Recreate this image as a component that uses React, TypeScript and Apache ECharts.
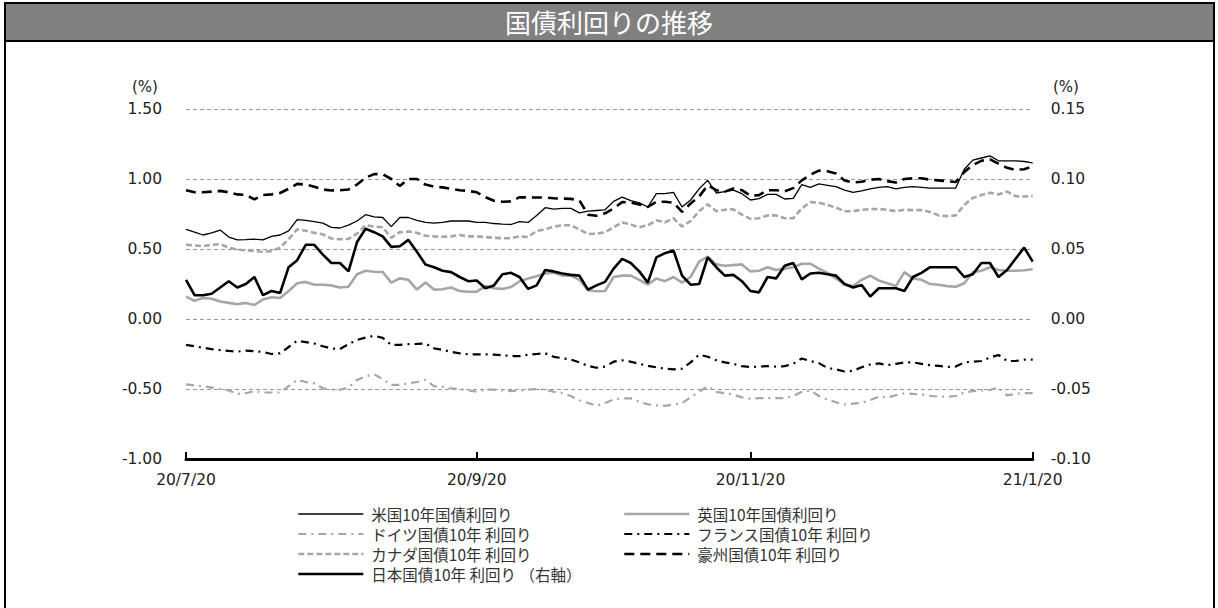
import { useEffect, useRef } from "react";
import * as echarts from "echarts";

const titleText = "国債利回りの推移";
const tickLabels = ["20/7/20", "20/9/20", "20/11/20", "21/1/20"];
const tickIndex = [0, 34, 66, 99];

const seriesNames = [
  "米国10年国債利回り",
  "英国10年国債利回り",
  "ドイツ国債10年 利回り",
  "フランス国債10年 利回り",
  "カナダ国債10年 利回り",
  "豪州国債10年 利回り",
  "日本国債10年 利回り （右軸）",
];

const us = [
  0.64, 0.62, 0.6, 0.615, 0.635, 0.585, 0.565, 0.567, 0.57, 0.565,
  0.59, 0.6, 0.63, 0.71, 0.705, 0.695, 0.685, 0.655, 0.65, 0.67,
  0.7, 0.745, 0.73, 0.725, 0.66, 0.725, 0.725, 0.705, 0.69, 0.685,
  0.69, 0.7, 0.7, 0.7, 0.69, 0.69, 0.682, 0.677, 0.675, 0.695,
  0.69, 0.74, 0.795, 0.785, 0.79, 0.79, 0.758, 0.77, 0.775, 0.78,
  0.84, 0.87, 0.845, 0.83, 0.8, 0.895, 0.895, 0.905, 0.8, 0.85,
  0.93, 0.99, 0.9, 0.91, 0.92, 0.895, 0.85, 0.86, 0.89, 0.89,
  0.857, 0.862, 0.96, 0.94, 0.965, 0.955, 0.945, 0.92, 0.905, 0.915,
  0.93, 0.94, 0.945, 0.93, 0.94, 0.945, 0.94, 0.935, 0.935, 0.935,
  0.935, 1.07, 1.135, 1.15, 1.165, 1.13, 1.13, 1.13, 1.125, 1.115,
];

const uk = [
  0.16, 0.13, 0.15, 0.145, 0.125, 0.115, 0.105, 0.115, 0.1, 0.14,
  0.155, 0.15, 0.2, 0.255, 0.265, 0.245, 0.245, 0.24, 0.225, 0.23,
  0.32, 0.345, 0.338, 0.336, 0.26, 0.29, 0.28, 0.21, 0.26, 0.21,
  0.212, 0.225, 0.2, 0.195, 0.195, 0.235, 0.22, 0.215, 0.228, 0.27,
  0.29, 0.305, 0.325, 0.33, 0.31, 0.31, 0.28, 0.205, 0.198, 0.2,
  0.3, 0.31, 0.31, 0.28, 0.245, 0.29, 0.27, 0.3, 0.26, 0.3,
  0.41, 0.445, 0.39, 0.38, 0.385, 0.39, 0.34, 0.345, 0.37, 0.35,
  0.36, 0.37, 0.395, 0.395, 0.36, 0.33, 0.29, 0.245, 0.235, 0.28,
  0.31, 0.275, 0.255, 0.235, 0.335, 0.29, 0.28, 0.25, 0.245, 0.235,
  0.23, 0.255, 0.335, 0.345, 0.37, 0.35, 0.345, 0.345, 0.348, 0.355,
];

const germany = [
  -0.467, -0.475, -0.48, -0.49, -0.5, -0.51, -0.535, -0.53, -0.515, -0.525,
  -0.525, -0.525, -0.48, -0.435, -0.45, -0.46, -0.495, -0.505, -0.505, -0.49,
  -0.435, -0.41, -0.395, -0.43, -0.47, -0.47, -0.46, -0.45, -0.435, -0.48,
  -0.485, -0.495, -0.5, -0.51, -0.52, -0.505, -0.505, -0.51, -0.515, -0.51,
  -0.505, -0.5, -0.505, -0.52, -0.53, -0.55, -0.58, -0.6, -0.62, -0.6,
  -0.575, -0.567, -0.567, -0.59, -0.61, -0.617, -0.62, -0.61, -0.6, -0.56,
  -0.52, -0.48, -0.52, -0.53, -0.54, -0.56, -0.57, -0.565, -0.565, -0.565,
  -0.565, -0.55, -0.52, -0.51, -0.55, -0.575, -0.595, -0.61, -0.605, -0.598,
  -0.58, -0.555, -0.56, -0.545, -0.53, -0.535, -0.54, -0.548, -0.555, -0.555,
  -0.55, -0.525, -0.515, -0.51, -0.507, -0.49, -0.545, -0.535, -0.53, -0.53,
];

const france = [
  -0.185, -0.195, -0.205, -0.215, -0.222, -0.228, -0.233, -0.226, -0.23, -0.235,
  -0.25, -0.245, -0.2, -0.155, -0.165, -0.175, -0.195, -0.21, -0.215, -0.18,
  -0.15, -0.133, -0.12, -0.135, -0.185, -0.185, -0.18, -0.178, -0.175, -0.21,
  -0.22, -0.235, -0.245, -0.252, -0.252, -0.252, -0.255, -0.258, -0.265, -0.265,
  -0.255, -0.25, -0.245, -0.27, -0.28, -0.29, -0.31, -0.335, -0.348, -0.34,
  -0.305, -0.295, -0.305, -0.32, -0.335, -0.345, -0.355, -0.36, -0.355, -0.31,
  -0.255, -0.27, -0.295, -0.31, -0.32, -0.337, -0.343, -0.34, -0.337, -0.34,
  -0.337, -0.32, -0.282, -0.3, -0.315, -0.35, -0.36, -0.375, -0.37, -0.345,
  -0.325, -0.317, -0.33, -0.32, -0.31, -0.31, -0.32, -0.33, -0.335, -0.342,
  -0.34, -0.31, -0.305, -0.3, -0.275, -0.257, -0.3, -0.3, -0.29, -0.29,
];

const canada = [
  0.53, 0.525, 0.52, 0.53, 0.535, 0.51, 0.495, 0.49, 0.485, 0.48,
  0.485, 0.51, 0.57, 0.64, 0.63, 0.615, 0.605, 0.575, 0.57, 0.572,
  0.61, 0.67, 0.66, 0.655, 0.58, 0.62, 0.625, 0.615, 0.595, 0.59,
  0.587, 0.59, 0.6, 0.59, 0.59, 0.585, 0.58, 0.577, 0.577, 0.59,
  0.585, 0.63, 0.64, 0.66, 0.67, 0.67, 0.64, 0.607, 0.61, 0.62,
  0.655, 0.69, 0.675, 0.655, 0.67, 0.705, 0.69, 0.72, 0.66, 0.7,
  0.77, 0.82, 0.77, 0.78, 0.783, 0.745, 0.715, 0.72, 0.74, 0.74,
  0.72, 0.72, 0.79, 0.835, 0.83, 0.815, 0.795, 0.77, 0.77, 0.78,
  0.785, 0.786, 0.78, 0.77, 0.78, 0.778, 0.778, 0.765, 0.74, 0.735,
  0.74, 0.815, 0.865, 0.885, 0.902, 0.89, 0.91, 0.877, 0.875, 0.877,
];

const australia = [
  0.92, 0.905, 0.905, 0.91, 0.915, 0.905, 0.89, 0.886, 0.855, 0.885,
  0.89, 0.9, 0.93, 0.965, 0.96, 0.945, 0.925, 0.918, 0.92, 0.925,
  0.96, 1.01, 1.035, 1.035, 1.0, 0.95, 1.0, 1.0, 0.96, 0.945,
  0.94, 0.93, 0.92, 0.915, 0.905, 0.87, 0.845, 0.838, 0.84, 0.87,
  0.868, 0.868, 0.868, 0.862, 0.86, 0.858, 0.848, 0.745, 0.737, 0.755,
  0.79, 0.835, 0.832, 0.818, 0.8, 0.838, 0.838, 0.83, 0.765, 0.825,
  0.875, 0.955, 0.92, 0.91, 0.932, 0.92, 0.88, 0.885, 0.92, 0.92,
  0.912, 0.935, 0.99, 1.03, 1.06, 1.055, 1.04, 0.99, 0.975, 0.98,
  0.995, 1.0, 0.985, 0.975, 1.0, 1.005, 1.005, 0.995, 0.99, 0.985,
  0.978, 1.05, 1.1, 1.13, 1.14, 1.11, 1.08, 1.065, 1.07, 1.09,
];

const japan = [
  0.028, 0.017, 0.017, 0.018, 0.0225, 0.027, 0.0225, 0.025, 0.03, 0.017,
  0.02, 0.0185, 0.037, 0.042, 0.053, 0.053, 0.046, 0.04, 0.04, 0.034,
  0.055, 0.0645, 0.062, 0.059, 0.0515, 0.052, 0.0565, 0.048, 0.039, 0.037,
  0.0345, 0.0335, 0.03, 0.027, 0.0275, 0.022, 0.024, 0.032, 0.033, 0.03,
  0.0215, 0.024, 0.035, 0.034, 0.0325, 0.0315, 0.031, 0.021, 0.024, 0.0265,
  0.036, 0.043, 0.04, 0.034, 0.026, 0.044, 0.047, 0.049, 0.031, 0.0245,
  0.025, 0.044, 0.037, 0.031, 0.0315, 0.027, 0.02, 0.019, 0.03, 0.029,
  0.038, 0.04, 0.0283, 0.0325, 0.033, 0.032, 0.031, 0.025, 0.0225, 0.0243,
  0.016, 0.022, 0.022, 0.022, 0.02, 0.03, 0.033, 0.037, 0.037, 0.037,
  0.037, 0.03, 0.032, 0.04, 0.04, 0.03, 0.035, 0.043, 0.051, 0.041,
];

const seriesData = [us, uk, germany, france, canada, australia, japan];

const GRAY = "#a6a6a6";
const BLACK = "#000000";
const NUM_FONT = "'DejaVu Sans', Verdana, sans-serif";
const JP_FONT = "'Noto Sans CJK JP', 'Noto Sans', sans-serif";

const lineStyles: any[] = [
  { color: BLACK, width: 1.3, type: "solid" },
  { color: GRAY, width: 2.6, type: "solid" },
  { color: GRAY, width: 2.2, type: [8, 5, 2, 5] },
  { color: BLACK, width: 2.2, type: [8, 5, 2, 5] },
  { color: GRAY, width: 2.6, type: [6, 3] },
  { color: BLACK, width: 2.6, type: [10, 6] },
  { color: BLACK, width: 2.6, type: "solid" },
];

export default function App() {
  const ref = useRef<HTMLDivElement>(null);

  useEffect(() => {
    if (!ref.current) return;
    const chart = echarts.init(ref.current, undefined, { renderer: "svg" });
    const categories = us.map((_, i) => String(i));
    const showTick = (idx: number) => tickIndex.indexOf(idx) >= 0;
    const legendItem = (i: number) => ({
      name: seriesNames[i],
      lineStyle: {
        color: lineStyles[i].color,
        width: lineStyles[i].width,
        type: lineStyles[i].type,
      },
    });

    const legendCommon = {
      orient: "vertical",
      padding: 0,
      itemWidth: 65,
      itemHeight: 16,
      itemGap: 4,
      selectedMode: false,
      itemStyle: { opacity: 0, borderWidth: 0 },
      textStyle: {
        fontFamily: JP_FONT,
        fontSize: 15.5,
        color: "#333",
        lineHeight: 16,
        padding: [0, 0, 0, 3],
      },
    };

    chart.setOption({
      animation: false,
      backgroundColor: "#ffffff",
      title: {
        text: titleText,
        left: "center",
        top: 8,
        padding: 0,
        textStyle: {
          color: "#ffffff",
          fontSize: 26,
          fontWeight: "normal",
          fontFamily: JP_FONT,
        },
      },
      graphic: [
        {
          type: "rect",
          z: -10,
          shape: { x: 5, y: 3, width: 1209, height: 38 },
          style: { fill: "#808080", stroke: "#000", lineWidth: 2 },
        },
        {
          type: "rect",
          z: -10,
          shape: { x: 5, y: 3, width: 1209, height: 640 },
          style: { fill: "none", stroke: "#000", lineWidth: 2 },
        },
        {
          type: "text",
          x: 145,
          y: 87,
          style: {
            text: "(%)",
            fontFamily: NUM_FONT,
            fontSize: 15,
            fill: "#222",
            align: "center",
            verticalAlign: "middle",
          },
        },
        {
          type: "text",
          x: 1053,
          y: 87,
          style: {
            text: "(%)",
            fontFamily: NUM_FONT,
            fontSize: 15,
            fill: "#222",
            align: "left",
            verticalAlign: "middle",
          },
        },
      ],
      grid: { left: 186, right: 185.3, top: 109, bottom: 149, containLabel: false },
      legend: [
        {
          ...legendCommon,
          left: 297,
          top: 506,
          data: [legendItem(0), legendItem(2), legendItem(4), legendItem(6)],
        },
        {
          ...legendCommon,
          left: 623,
          top: 506,
          data: [legendItem(1), legendItem(3), legendItem(5)],
        },
      ],
      xAxis: {
        type: "category",
        data: categories,
        boundaryGap: false,
        axisLine: { onZero: false, lineStyle: { color: "#000", width: 3 } },
        axisTick: {
          show: true,
          inside: true,
          length: 7,
          interval: (idx: number) => showTick(idx),
          lineStyle: { color: "#000", width: 2 },
        },
        axisLabel: {
          interval: (idx: number) => showTick(idx),
          formatter: (_v: string, idx: number) => {
            const k = tickIndex.indexOf(idx);
            return k >= 0 ? tickLabels[k] : "";
          },
          margin: 13,
          fontFamily: NUM_FONT,
          fontSize: 15.5,
          color: "#222",
        },
        splitLine: { show: false },
      },
      yAxis: [
        {
          type: "value",
          min: -1,
          max: 1.5,
          interval: 0.5,
          axisLine: { show: false },
          axisTick: { show: false },
          axisLabel: {
            formatter: (v: number) => v.toFixed(2),
            margin: 24,
            fontFamily: NUM_FONT,
            fontSize: 15.5,
            color: "#222",
          },
          splitLine: {
            show: true,
            lineStyle: { color: "#999", width: 1, type: [4, 3] },
          },
        },
        {
          type: "value",
          min: -0.1,
          max: 0.15,
          interval: 0.05,
          axisLine: { show: false },
          axisTick: { show: false },
          axisLabel: {
            formatter: (v: number) => v.toFixed(2),
            margin: 18,
            fontFamily: NUM_FONT,
            fontSize: 15.5,
            color: "#222",
          },
          splitLine: { show: false },
        },
      ],
      series: seriesNames.map((name, i) => ({
        name,
        type: "line",
        yAxisIndex: i === 6 ? 1 : 0,
        data: seriesData[i],
        symbol: "none",
        showSymbol: false,
        lineStyle: lineStyles[i],
        itemStyle: { color: lineStyles[i].color },
        z: i === 6 ? 5 : 2 + i * 0.1,
      })),
    });

    return () => chart.dispose();
  }, []);

  return (
    <div
      ref={ref}
      style={{
        position: "absolute",
        left: 0,
        top: 0,
        width: 1218,
        height: 608,
        background: "#fff",
      }}
    />
  );
}
